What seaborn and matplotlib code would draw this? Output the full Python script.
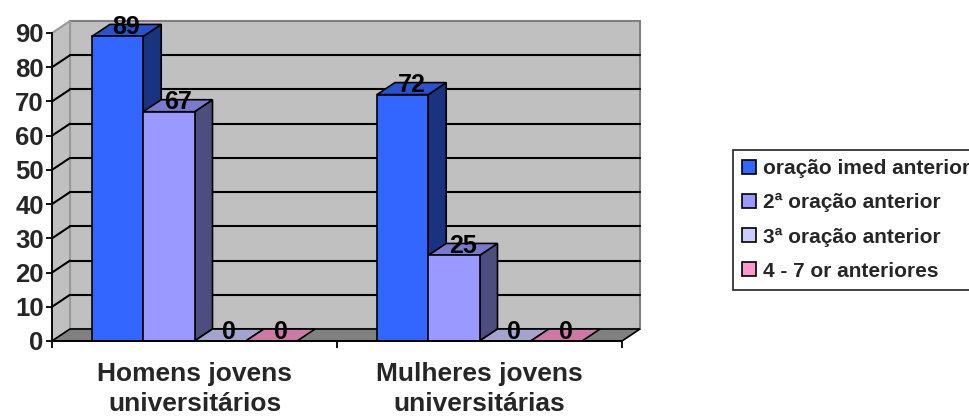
import numpy as np
import pandas as pd
import matplotlib
matplotlib.use("Agg")
import matplotlib.pyplot as plt
import seaborn as sns
from matplotlib.patches import Polygon, Patch, Rectangle
from matplotlib.colors import to_rgb

# ---- data ----
categories = ["Homens jovens\nuniversitários", "Mulheres jovens\nuniversitárias"]
series = ["oração imed anterior", "2ª oração anterior", "3ª oração anterior", "4 - 7 or anteriores"]
s1_values = [89, 72]
s2_values = [67, 25]
s3_values = [0, 0]
s4_values = [0, 0]
colors = ["#3366FF", "#9999FF", "#CCCCFF", "#FF99CC"]
yticks = [0, 10, 20, 30, 40, 50, 60, 70, 80, 90]

df = pd.DataFrame({
    "cat": categories * 4,
    "series": [s for s in series for _ in categories],
    "val": s1_values + s2_values + s3_values + s4_values,
})

sns.set_theme(style="white")
plt.rcParams["font.family"] = ["Liberation Sans", "DejaVu Sans"]
plt.rcParams["font.weight"] = "bold"

W, H = 970, 416
fig = plt.figure(figsize=(W / 100, H / 100), dpi=100)
ax = fig.add_axes([52 / W, (H - 341) / H, 570 / W, (341 - 33) / H])

sns.barplot(data=df, x="cat", y="val", hue="series", order=categories,
            hue_order=series, palette=colors, width=0.72, saturation=1,
            edgecolor="black", linewidth=1.2, errorbar=None, legend=False, ax=ax)

bars = [p for p in ax.patches if isinstance(p, Rectangle)]
bars = sorted(bars, key=lambda p: p.get_x())

ax.set_xlim(-0.5, 1.5)
ax.set_ylim(0, 90)
ax.set_facecolor("none")
ax.set_xlabel("")
ax.set_ylabel("")

# depth offsets (pixels -> data units)
px_x = 570 / 2.0
px_y = (341 - 33) / 90.0
DX = 18 / px_x
DY = 12 / px_y

x0, x1 = -0.5, 1.5
ytop = 90
# back wall
ax.add_patch(Polygon([(x0 + DX, DY), (x1 + DX, DY), (x1 + DX, ytop + DY), (x0 + DX, ytop + DY)],
                     closed=True, facecolor="#C0C0C0", edgecolor="#808080", lw=1.5,
                     clip_on=False, zorder=0.2))
# left wall
ax.add_patch(Polygon([(x0, 0), (x0 + DX, DY), (x0 + DX, ytop + DY), (x0, ytop)],
                     closed=True, facecolor="#C0C0C0", edgecolor="#9A9A9A", lw=1.5,
                     clip_on=False, zorder=0.2))
# gridlines
for v in yticks[1:-1]:
    ax.plot([x0 + DX, x1 + DX], [v + DY, v + DY], color="black", lw=1.5, clip_on=False, zorder=0.4)
    ax.plot([x0, x0 + DX], [v, v + DY], color="black", lw=1.5, clip_on=False, zorder=0.4)
# floor
ax.add_patch(Polygon([(x0, 0), (x1, 0), (x1 + DX, DY), (x0 + DX, DY)],
                     closed=True, facecolor="#808080", edgecolor="black", lw=1.2,
                     clip_on=False, zorder=0.6))

# 3D faces for bars
for rank, b in enumerate(bars):
    z = 3 + rank * 0.01
    bx, bw, bh = b.get_x(), b.get_width(), b.get_height()
    fc = np.array(to_rgb(b.get_facecolor()))
    b.set_zorder(z)
    if bh > 0:
        ax.add_patch(Polygon([(bx + bw, 0), (bx + bw + DX, DY), (bx + bw + DX, bh + DY), (bx + bw, bh)],
                             closed=True, facecolor=fc * 0.5, edgecolor="black", lw=1.2,
                             clip_on=False, zorder=z - 0.001))
    ax.add_patch(Polygon([(bx, bh), (bx + DX, bh + DY), (bx + bw + DX, bh + DY), (bx + bw, bh)],
                         closed=True, facecolor=fc * 0.8, edgecolor="black", lw=1.2,
                         clip_on=False, zorder=z - 0.001))
    ax.text(bx + bw / 2 + DX / 2, bh + DY - 0.8, f"{int(round(bh))}", ha="center", va="center",
            fontsize=18, fontweight="bold", color="black", zorder=10, clip_on=False)

# axes styling
for s in ["top", "right"]:
    ax.spines[s].set_visible(False)
for s in ["left", "bottom"]:
    ax.spines[s].set_color("black")
    ax.spines[s].set_linewidth(1.3)
    ax.spines[s].set_zorder(5)

ax.set_yticks(yticks)
ax.set_yticklabels([str(v) for v in yticks])
ax.tick_params(axis="y", direction="out", length=4, width=1.3, color="black",
               labelsize=18.5, pad=2, left=True)
ax.set_xticks([0, 1])
ax.set_xticklabels(categories)
ax.set_xticks([-0.5, 0.5, 1.5], minor=True)
ax.tick_params(axis="x", which="major", length=0, labelsize=19, pad=15)
ax.tick_params(axis="x", which="minor", direction="out", length=5, width=1.3,
               color="black", bottom=True)
for lab in ax.get_xticklabels():
    lab.set_linespacing(1.35)
    lab.set_fontweight("bold")
for lab in ax.get_yticklabels():
    lab.set_fontweight("bold")

handles = [Patch(facecolor=c, edgecolor="black", lw=1.2) for c in colors]
leg = fig.legend(handles, series, loc="upper left", bbox_to_anchor=(733 / W, 1 - 150 / H),
                 frameon=True, fancybox=False, fontsize=15, handlelength=0.67,
                 handleheight=0.67, handletextpad=0.34, labelspacing=0.72, borderpad=0.45,
                 borderaxespad=0)
leg.get_frame().set_edgecolor("black")
leg.get_frame().set_linewidth(1.3)
for t in leg.get_texts():
    t.set_fontweight("bold")

fig.savefig("out.png", dpi=100)
